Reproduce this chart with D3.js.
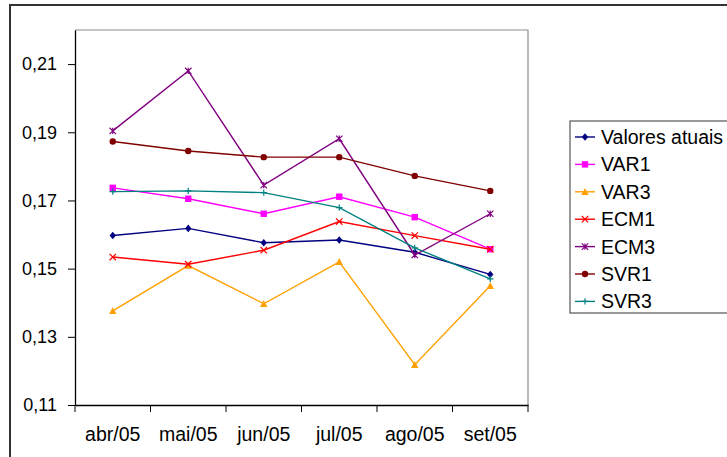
<!DOCTYPE html>
<html>
<head>
<meta charset="utf-8">
<script src="https://cdn.jsdelivr.net/npm/d3@7"></script>
<style>
  body { margin: 0; background: #fff; }
  svg { display: block; font-family: "Liberation Sans", Arial, sans-serif; }
</style>
</head>
<body>
<svg id="chart" width="727" height="457"></svg>
<script>
const months = ['abr/05', 'mai/05', 'jun/05', 'jul/05', 'ago/05', 'set/05'];
const yTicks = [0.11, 0.13, 0.15, 0.17, 0.19, 0.21];

const valoresAtuais = [0.1597, 0.1618, 0.1576, 0.1584, 0.1548, 0.1483];
const var1 = [0.1737, 0.1705, 0.1661, 0.1711, 0.1651, 0.1557];
const var3 = [0.1376, 0.1509, 0.1397, 0.1520, 0.1218, 0.1450];
const ecm1 = [0.1534, 0.1513, 0.1554, 0.1638, 0.1597, 0.1557];
const ecm3 = [0.1904, 0.2080, 0.1745, 0.1881, 0.1540, 0.1661];
const svr1 = [0.1873, 0.1845, 0.1827, 0.1827, 0.1772, 0.1728];
const svr3 = [0.1726, 0.1728, 0.1723, 0.1679, 0.1561, 0.1470];

const series = [
  { name: 'Valores atuais', values: valoresAtuais, color: '#000080', marker: 'diamond' },
  { name: 'VAR1', values: var1, color: '#ff00ff', marker: 'square' },
  { name: 'VAR3', values: var3, color: '#ffa000', marker: 'triangle' },
  { name: 'ECM1', values: ecm1, color: '#ff0000', marker: 'x' },
  { name: 'ECM3', values: ecm3, color: '#800080', marker: 'asterisk' },
  { name: 'SVR1', values: svr1, color: '#800000', marker: 'circle' },
  { name: 'SVR3', values: svr3, color: '#008080', marker: 'plus' }
];

const svg = d3.select('#chart');
const fontFamily = '"Liberation Sans", Arial, sans-serif';

// outer chart frame (runs off the right and bottom edges)
svg.append('rect')
  .attr('x', 10).attr('y', 5)
  .attr('width', 760).attr('height', 500)
  .attr('fill', '#fff')
  .attr('stroke', '#333')
  .attr('stroke-width', 2);

const plotLeft = 75, plotTop = 30, plotRight = 528, plotBottom = 405;

const x = d3.scaleBand().domain(months).range([plotLeft, plotRight]);
const y = d3.scaleLinear().domain([0.11, 0.22]).range([plotBottom, plotTop]);

// plot area border
svg.append('path')
  .attr('d', `M${plotLeft},${plotTop}H${plotRight}V${plotBottom}`)
  .attr('fill', 'none')
  .attr('stroke', '#8c8c8c')
  .attr('stroke-width', 1.2);

const fmt = d => d3.format('.2f')(d).replace('.', ',');

svg.append('g')
  .attr('transform', `translate(${plotLeft},0)`)
  .call(d3.axisLeft(y).tickValues(yTicks).tickFormat(fmt).tickSize(7).tickPadding(11).tickSizeOuter(0))
  .call(g => g.select('.domain').attr('stroke', '#000').attr('stroke-width', 1.3))
  .call(g => g.selectAll('.tick line').attr('stroke', '#000'))
  .call(g => g.selectAll('text').attr('font-size', 18).attr('fill', '#000')
    .attr('font-family', fontFamily));

const xAxis = svg.append('g')
  .attr('transform', `translate(0,${plotBottom})`)
  .call(d3.axisBottom(x).tickSize(0).tickPadding(22))
  .call(g => g.select('.domain').attr('stroke', '#000').attr('stroke-width', 1.3))
  .call(g => g.selectAll('text').attr('font-size', 19.5).attr('fill', '#000')
    .attr('font-family', fontFamily));

// tick marks at the category boundaries
const bounds = months.map(m => x(m)).concat([plotRight]);
xAxis.selectAll('line.bound')
  .data(bounds)
  .enter().append('line')
  .attr('class', 'bound')
  .attr('x1', d => d).attr('x2', d => d)
  .attr('y1', 0).attr('y2', 7)
  .attr('stroke', '#000');

const cx = m => x(m) + x.bandwidth() / 2;

function drawMarker(g, type, color) {
  const s = 3.2;
  if (type === 'diamond') {
    g.append('path').attr('d', `M0,${-s - 0.6}L${s},0L0,${s + 0.6}L${-s},0Z`).attr('fill', color);
  } else if (type === 'square') {
    g.append('rect').attr('x', -s).attr('y', -s).attr('width', 2 * s).attr('height', 2 * s).attr('fill', color);
  } else if (type === 'triangle') {
    g.append('path').attr('d', `M0,${-s - 0.5}L${s + 0.5},${s}L${-s - 0.5},${s}Z`).attr('fill', color);
  } else if (type === 'circle') {
    g.append('circle').attr('r', s).attr('fill', color);
  } else if (type === 'x') {
    g.append('path').attr('d', `M${-s},${-s}L${s},${s}M${-s},${s}L${s},${-s}`).attr('stroke', color).attr('stroke-width', 1.2);
  } else if (type === 'asterisk') {
    g.append('path').attr('d', `M${-s},${-s}L${s},${s}M${-s},${s}L${s},${-s}M0,${-s}L0,${s}`).attr('stroke', color).attr('stroke-width', 1.2);
  } else if (type === 'plus') {
    g.append('path').attr('d', `M${-s},0L${s},0M0,${-s}L0,${s}`).attr('stroke', color).attr('stroke-width', 1.2);
  }
}

const line = d3.line()
  .x((d, i) => cx(months[i]))
  .y(d => y(d));

series.forEach(s => {
  svg.append('path')
    .datum(s.values)
    .attr('d', line)
    .attr('fill', 'none')
    .attr('stroke', s.color)
    .attr('stroke-width', 1.4);
  s.values.forEach((v, i) => {
    const g = svg.append('g').attr('transform', `translate(${cx(months[i])},${y(v)})`);
    drawMarker(g, s.marker, s.color);
  });
});

// legend
const legend = svg.append('g');
legend.append('rect')
  .attr('x', 570).attr('y', 121)
  .attr('width', 200).attr('height', 192)
  .attr('fill', '#fff')
  .attr('stroke', '#555')
  .attr('stroke-width', 1.2);

series.forEach((s, i) => {
  const yy = 137 + i * 27.4;
  const item = legend.append('g').attr('transform', `translate(0,${yy})`);
  item.append('line')
    .attr('x1', 575).attr('x2', 595)
    .attr('stroke', s.color).attr('stroke-width', 1.4);
  drawMarker(item.append('g').attr('transform', 'translate(585,0)'), s.marker, s.color);
  item.append('text')
    .attr('x', 601).attr('y', 0)
    .attr('dy', '0.36em')
    .attr('font-size', 19.5)
    .attr('font-family', fontFamily)
    .text(s.name);
});
</script>
</body>
</html>
